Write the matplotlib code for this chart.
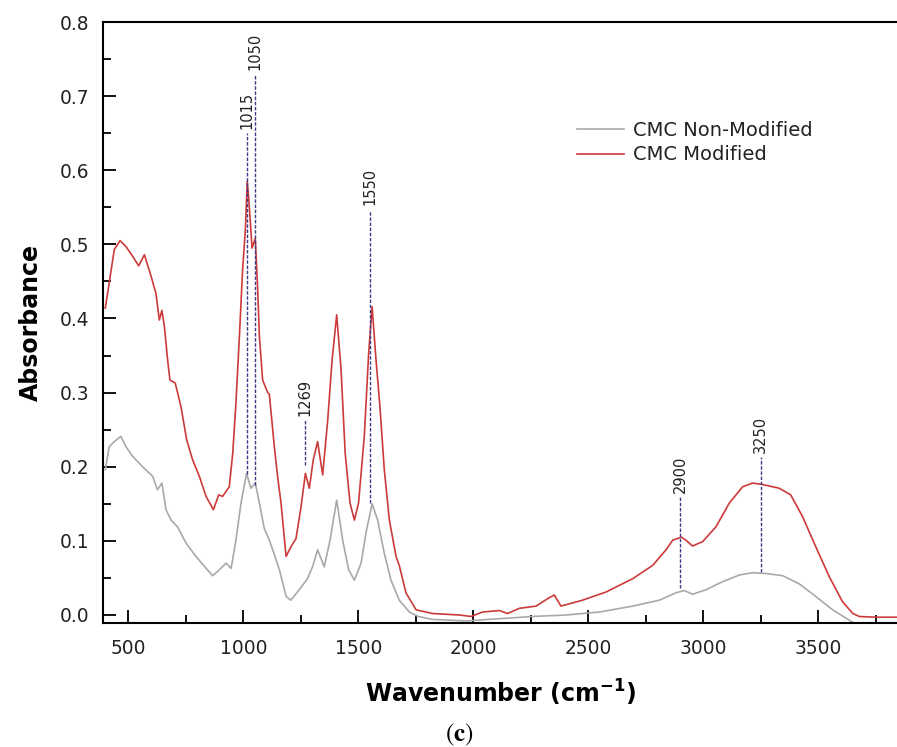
import numpy as np
import matplotlib
matplotlib.use("Agg")
import matplotlib.pyplot as plt
from matplotlib.ticker import MultipleLocator

# CMC Modified (red)
wn_mod = [400, 417, 439, 464, 490, 519, 545, 570, 599, 620, 635, 646, 657, 671, 681, 704,
          729, 754, 780, 809, 838, 870, 893, 910, 939, 954, 968, 983, 997, 1009, 1017, 1024,
          1038, 1052, 1062, 1070, 1084, 1106, 1113, 1135, 1149, 1164, 1186, 1207, 1229, 1251,
          1270, 1287, 1304, 1323, 1345, 1367, 1386, 1406, 1425, 1443, 1464, 1483, 1501, 1526,
          1545, 1560, 1577, 1594, 1613, 1635, 1664, 1678, 1707, 1751, 1823, 1939, 1990, 2040,
          2113, 2149, 2200, 2273, 2323, 2352, 2381, 2475, 2577, 2693, 2780, 2838, 2867, 2905,
          2924, 2953, 2997, 3055, 3113, 3171, 3214, 3258, 3330, 3380, 3431, 3489, 3547, 3605,
          3650, 3678, 3750, 3850]
abs_mod = [0.414, 0.448, 0.493, 0.505, 0.497, 0.484, 0.471, 0.486, 0.457, 0.434, 0.398, 0.411,
           0.389, 0.344, 0.317, 0.313, 0.281, 0.236, 0.209, 0.187, 0.160, 0.142, 0.162, 0.160,
           0.173, 0.218, 0.286, 0.376, 0.466, 0.520, 0.585, 0.560, 0.495, 0.508, 0.443, 0.376,
           0.317, 0.300, 0.298, 0.227, 0.187, 0.151, 0.079, 0.092, 0.103, 0.146, 0.191, 0.171,
           0.209, 0.234, 0.189, 0.263, 0.344, 0.405, 0.331, 0.218, 0.151, 0.128, 0.151, 0.241,
           0.353, 0.416, 0.344, 0.281, 0.196, 0.128, 0.079, 0.067, 0.030, 0.007, 0.002, 0.000,
           -0.002, 0.004, 0.006, 0.002, 0.009, 0.012, 0.022, 0.027, 0.012, 0.020, 0.031, 0.049,
           0.067, 0.088, 0.101, 0.105, 0.101, 0.093, 0.099, 0.119, 0.151, 0.173, 0.178, 0.176,
           0.171, 0.162, 0.133, 0.092, 0.052, 0.018, 0.002, -0.002, -0.003, -0.003]

# CMC Non-Modified (grey)
wn_non = [400, 417, 439, 468, 490, 519, 562, 606, 627, 646, 664, 686, 714, 751, 794, 838, 867,
          896, 925, 947, 968, 990, 1014, 1033, 1052, 1070, 1091, 1113, 1128, 1157, 1186, 1207,
          1243, 1279, 1301, 1323, 1352, 1377, 1406, 1432, 1458, 1483, 1512, 1536, 1560, 1584,
          1613, 1642, 1678, 1722, 1760, 1823, 1968, 2113, 2258, 2403, 2548, 2693, 2809, 2881,
          2917, 2953, 3011, 3084, 3157, 3214, 3272, 3345, 3417, 3489, 3562, 3635, 3700]
abs_non = [0.196, 0.227, 0.234, 0.241, 0.227, 0.214, 0.200, 0.187, 0.169, 0.178, 0.142, 0.128,
           0.119, 0.097, 0.079, 0.063, 0.053, 0.061, 0.070, 0.063, 0.101, 0.151, 0.191, 0.171,
           0.178, 0.151, 0.117, 0.101, 0.088, 0.061, 0.025, 0.020, 0.034, 0.049, 0.065, 0.088,
           0.065, 0.101, 0.155, 0.101, 0.061, 0.047, 0.070, 0.115, 0.150, 0.128, 0.083, 0.047,
           0.020, 0.004, -0.002, -0.006, -0.008, -0.005, -0.002, 0.000, 0.004, 0.012, 0.020,
           0.030, 0.033, 0.028, 0.034, 0.045, 0.054, 0.057, 0.056, 0.053, 0.042, 0.025, 0.007,
           -0.007, -0.020]

# marked peaks: label, line bottom, line top
peak_wn = [1015, 1050, 1269, 1550, 2900, 3250]
peak_lo = [0.190, 0.175, 0.202, 0.151, 0.036, 0.058]
peak_hi = [0.650, 0.729, 0.263, 0.547, 0.159, 0.213]

RED = "#cc3a3a"
GREY = "#a9a9a9"
TXT = "#222222"

fig = plt.figure(figsize=(8.97, 7.47), dpi=100)
ax = fig.add_axes([103 / 897, 1 - 623 / 747, 1 - 103 / 897, (623 - 22) / 747])

ax.plot(wn_non, abs_non, color=GREY, lw=1.2, label="CMC Non-Modified")
ax.plot(wn_mod, abs_mod, color=RED, lw=1.2, label="CMC Modified")

for wn, lo, hi in zip(peak_wn, peak_lo, peak_hi):
    ax.plot([wn, wn], [lo, hi], color="#3b3b86", lw=1.0, linestyle=(0, (2.5, 1.2)))
    ax.annotate(str(wn), (wn, hi), xytext=(0, 3), textcoords="offset points",
                rotation=90, ha="center", va="bottom", fontsize=10.5, color=TXT)

ax.set_xlim(390, 3842)
ax.set_ylim(-0.0108, 0.8)
ax.xaxis.set_major_locator(MultipleLocator(500))
ax.xaxis.set_minor_locator(MultipleLocator(250))
ax.yaxis.set_major_locator(MultipleLocator(0.1))
ax.yaxis.set_minor_locator(MultipleLocator(0.05))
ax.yaxis.set_major_formatter(plt.FuncFormatter(lambda v, p: f"{v:.1f}"))

ax.tick_params(which="both", direction="in", width=1.3, colors="black", labelcolor=TXT,
               labelsize=13.4)
ax.tick_params(which="major", length=9.5)
ax.tick_params(which="minor", length=5.5)
ax.tick_params(axis="x", pad=11.5)
ax.tick_params(axis="y", pad=10)

ax.spines["right"].set_visible(False)
for s in ("left", "bottom", "top"):
    ax.spines[s].set_linewidth(1.5)

ax.set_ylabel("Absorbance", fontsize=17, fontweight="bold", labelpad=12)
ax.set_xlabel(r"Wavenumber (cm$^{\mathbf{-1}}$)", fontsize=17, fontweight="bold",
              labelpad=14, math_fontfamily="dejavusans")

ax.legend(loc="upper left", bbox_to_anchor=(0.575, 0.865), frameon=False, fontsize=14,
          handlelength=2.4, handletextpad=0.5, labelspacing=0.3, labelcolor=TXT)

fig.text(459 / 897, 1 - 735 / 747, r"($\mathbf{c}$)", family="STIXGeneral",
         fontsize=18, ha="center", va="center", color="black", math_fontfamily="stix")

fig.savefig("out.png", dpi=100)
plt.close(fig)
